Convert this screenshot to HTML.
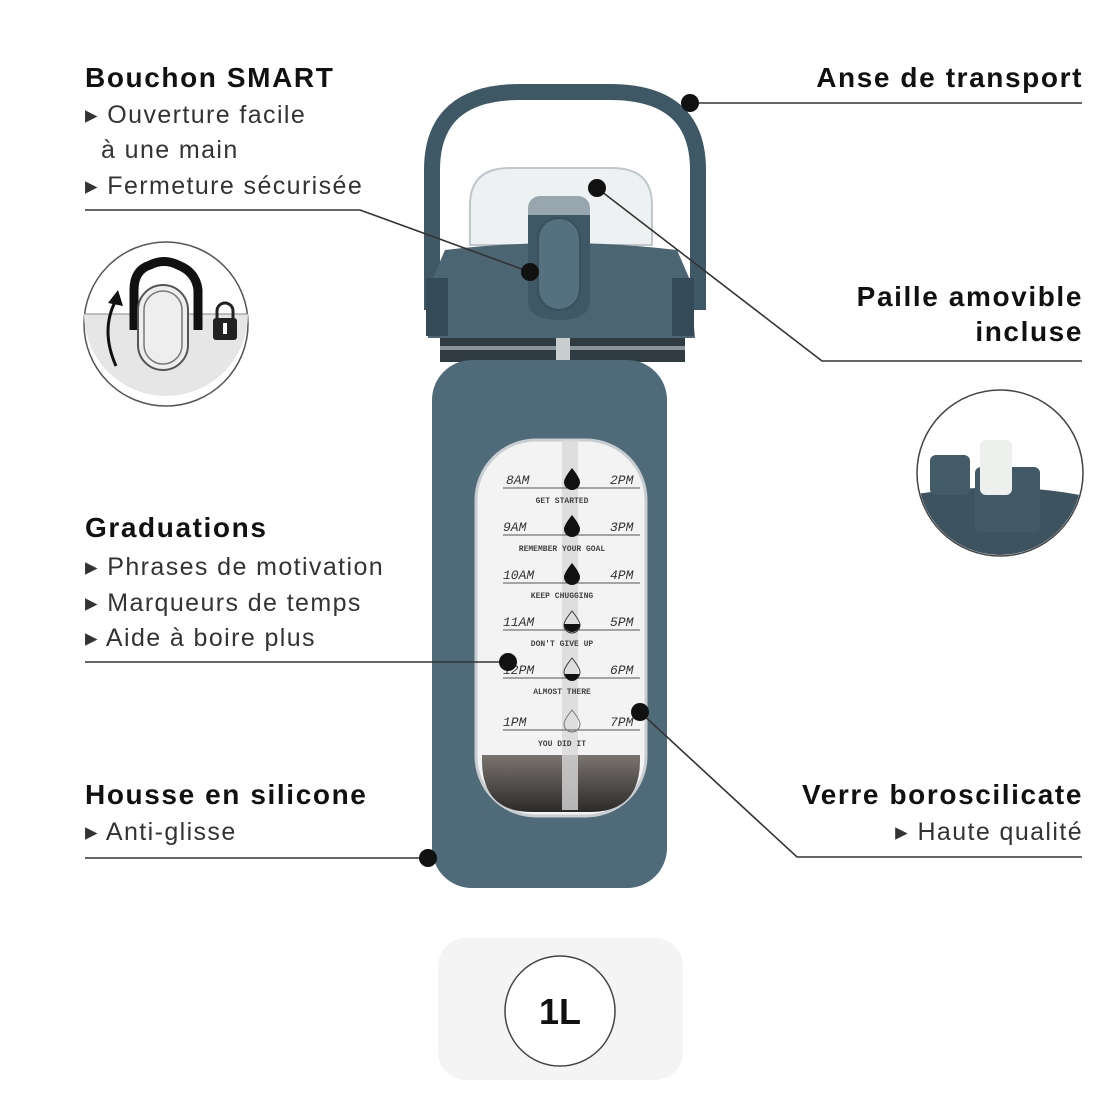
<!DOCTYPE html>
<html><head><meta charset="utf-8"><style>
html,body{margin:0;padding:0;background:#fff;}
svg{display:block;}
.h{font-family:"Liberation Sans",sans-serif;font-weight:bold;font-size:28px;letter-spacing:1.6px;fill:#111;}
.b{font-family:"Liberation Sans",sans-serif;font-size:25px;letter-spacing:1.4px;fill:#333;}
.w{font-family:"Liberation Mono",monospace;font-style:italic;font-size:13px;fill:#333;}
.s{font-family:"Liberation Mono",monospace;font-weight:bold;font-size:8px;fill:#444;}
</style></head><body>
<svg width="1120" height="1120" viewBox="0 0 1120 1120" xmlns="http://www.w3.org/2000/svg">
<defs>
<linearGradient id="wg" x1="0" y1="0" x2="0" y2="1">
<stop offset="0" stop-color="#7a7470"/><stop offset="1" stop-color="#2c2a28"/>
</linearGradient>
</defs>
<rect width="1120" height="1120" fill="#fff"/>
<!-- bottom badge -->
<rect x="438" y="938" width="245" height="142" rx="28" fill="#f4f4f4"/>
<circle cx="560" cy="1011" r="55" fill="#fff" stroke="#444" stroke-width="1.5"/>
<text x="560" y="1024" text-anchor="middle" font-family="Liberation Sans,sans-serif" font-weight="bold" font-size="36" fill="#111">1L</text>

<!-- handle -->
<path d="M432 310 L432 170 Q432 92 520 92 L610 92 Q698 92 698 170 L698 310" fill="none" stroke="#3f5866" stroke-width="16"/>
<!-- clear lid -->
<path d="M470 245 L470 205 Q470 168 510 168 L612 168 Q652 168 652 205 L652 245 Z" fill="#eef1f2" stroke="#bfc7cb" stroke-width="2"/>
<rect x="528" y="196" width="62" height="50" rx="12" fill="#5d7482" opacity="0.6"/>
<!-- dark cap -->
<path d="M445 250 Q560 236 677 250 L690 280 L695 338 L428 338 L432 280 Z" fill="#4c6573"/>
<rect x="426" y="278" width="22" height="58" fill="#344a56"/>
<rect x="672" y="278" width="22" height="58" fill="#344a56"/>
<path d="M528 215 L590 215 L590 300 Q590 320 559 320 Q528 320 528 300 Z" fill="#3f5866"/>
<rect x="538" y="218" width="42" height="92" rx="21" fill="#55707e" stroke="#3a505c" stroke-width="2"/>
<!-- neck -->
<rect x="440" y="338" width="245" height="24" fill="#2f3b40"/>
<rect x="440" y="346" width="245" height="4" fill="#8a959a"/>
<rect x="556" y="338" width="14" height="24" fill="#c9cfd1"/>
<!-- sleeve -->
<rect x="432" y="360" width="235" height="528" rx="40" fill="#4f6a79"/>
<!-- window -->
<rect x="476" y="440" width="170" height="376" rx="60" fill="#f3f3f3" stroke="#c8cdd0" stroke-width="3"/>
<path d="M482 755 L640 755 L640 760 Q640 812 590 812 L532 812 Q482 812 482 760 Z" fill="url(#wg)"/>
<rect x="562" y="440" width="16" height="370" fill="#d8d8d8" opacity="0.8"/>
<g>
<text class="w" x="506" y="484">8AM</text><text class="w" x="610" y="484">2PM</text>
<text class="s" x="562" y="503" text-anchor="middle">GET STARTED</text>
<text class="w" x="503" y="531">9AM</text><text class="w" x="610" y="531">3PM</text>
<text class="s" x="562" y="551" text-anchor="middle">REMEMBER YOUR GOAL</text>
<text class="w" x="503" y="579">10AM</text><text class="w" x="610" y="579">4PM</text>
<text class="s" x="562" y="598" text-anchor="middle">KEEP CHUGGING</text>
<text class="w" x="503" y="626">11AM</text><text class="w" x="610" y="626">5PM</text>
<text class="s" x="562" y="646" text-anchor="middle">DON'T GIVE UP</text>
<text class="w" x="503" y="674">12PM</text><text class="w" x="610" y="674">6PM</text>
<text class="s" x="562" y="694" text-anchor="middle">ALMOST THERE</text>
<text class="w" x="503" y="726">1PM</text><text class="w" x="610" y="726">7PM</text>
<text class="s" x="562" y="746" text-anchor="middle">YOU DID IT</text>
<g stroke="#555" stroke-width="1">
<line x1="503" y1="488" x2="640" y2="488"/><line x1="503" y1="535" x2="640" y2="535"/>
<line x1="503" y1="583" x2="640" y2="583"/><line x1="503" y1="630" x2="640" y2="630"/>
<line x1="503" y1="678" x2="640" y2="678"/><line x1="503" y1="730" x2="640" y2="730"/>
</g>
<g fill="#111">
<path d="M572 468 Q580 478 580 482 A8 8 0 0 1 564 482 Q564 478 572 468Z"/>
<path d="M572 515 Q580 525 580 529 A8 8 0 0 1 564 529 Q564 525 572 515Z"/>
<path d="M572 563 Q580 573 580 577 A8 8 0 0 1 564 577 Q564 573 572 563Z"/>
<path d="M572 611 Q580 621 580 625 A8 8 0 0 1 564 625 Q564 621 572 611Z" fill="none" stroke="#333"/>
<path d="M564 624 L580 624 A8 8 0 0 1 564 624Z"/>
<path d="M572 658 Q580 668 580 672 A8 8 0 0 1 564 672 Q564 668 572 658Z" fill="none" stroke="#333"/>
<path d="M565 674 L579 674 A7 7 0 0 1 565 674Z"/>
<path d="M572 710 Q580 720 580 724 A8 8 0 0 1 564 724 Q564 720 572 710Z" fill="none" stroke="#777"/>
</g>
</g>

<!-- left icon circle -->
<circle cx="166" cy="324" r="82" fill="#fff" stroke="#555" stroke-width="1.5"/>
<path d="M84 314 L248 314 A82 82 0 0 1 84 314 Z" fill="#e6e6e6"/>
<line x1="84" y1="314" x2="248" y2="314" stroke="#888" stroke-width="1"/>
<path d="M134 330 L134 290 Q134 270 150 265 Q164 258 178 265 Q196 272 198 290 L198 330" fill="none" stroke="#111" stroke-width="9"/>
<rect x="138" y="285" width="50" height="85" rx="25" fill="#eee" stroke="#555" stroke-width="2"/>
<rect x="144" y="291" width="38" height="73" rx="19" fill="#eee" stroke="#777" stroke-width="1.5"/>
<path d="M116 366 Q100 330 116 300" fill="none" stroke="#111" stroke-width="3"/>
<path d="M108 303 L118 290 L123 306 Z" fill="#111"/>
<rect x="213" y="318" width="24" height="22" rx="3" fill="#222"/>
<path d="M217 318 L217 311 A8 8 0 0 1 233 311 L233 318" fill="none" stroke="#222" stroke-width="3"/>
<rect x="223" y="323" width="4" height="11" fill="#fff"/>

<!-- right icon circle -->
<circle cx="1000" cy="473" r="83" fill="#fff" stroke="#444" stroke-width="1.5"/>
<clipPath id="c"><circle cx="1000" cy="473" r="82"/></clipPath>
<g clip-path="url(#c)">
<path d="M910 495 Q1000 480 1080 495 L1090 560 L910 560 Z" fill="#3d5360"/>
<rect x="930" y="455" width="40" height="40" rx="6" fill="#435a67"/>
<rect x="975" y="467" width="65" height="65" rx="6" fill="#425a67"/>
<rect x="980" y="440" width="32" height="55" rx="6" fill="#eef0ee"/>
</g>

<!-- connectors -->
<g stroke="#333" stroke-width="1.6" fill="none">
<polyline points="85,210 360,210 530,272"/>
<polyline points="690,103 1082,103"/>
<polyline points="597,188 822,361 1082,361"/>
<polyline points="85,662 508,662"/>
<polyline points="85,858 428,858"/>
<polyline points="640,712 797,857 1082,857"/>
</g>
<g fill="#111">
<circle cx="530" cy="272" r="9"/><circle cx="690" cy="103" r="9"/>
<circle cx="597" cy="188" r="9"/><circle cx="508" cy="662" r="9"/>
<circle cx="428" cy="858" r="9"/><circle cx="640" cy="712" r="9"/>
</g>

<!-- labels -->
<text class="h" x="85" y="87">Bouchon SMART</text>
<text class="b" x="85" y="123">▸ Ouverture facile</text>
<text class="b" x="101" y="158">à une main</text>
<text class="b" x="85" y="194">▸ Fermeture sécurisée</text>

<text class="h" x="1083" y="87" text-anchor="end">Anse de transport</text>
<text class="h" x="1083" y="306" text-anchor="end">Paille amovible</text>
<text class="h" x="1083" y="341" text-anchor="end">incluse</text>

<text class="h" x="85" y="537">Graduations</text>
<text class="b" x="85" y="575">▸ Phrases de motivation</text>
<text class="b" x="85" y="611">▸ Marqueurs de temps</text>
<text class="b" x="85" y="646">▸ Aide à boire plus</text>

<text class="h" x="85" y="804">Housse en silicone</text>
<text class="b" x="85" y="840">▸ Anti-glisse</text>

<text class="h" x="1083" y="804" text-anchor="end">Verre boroscilicate</text>
<text class="b" x="1083" y="840" text-anchor="end">▸ Haute qualité</text>
</svg>
</body></html>
